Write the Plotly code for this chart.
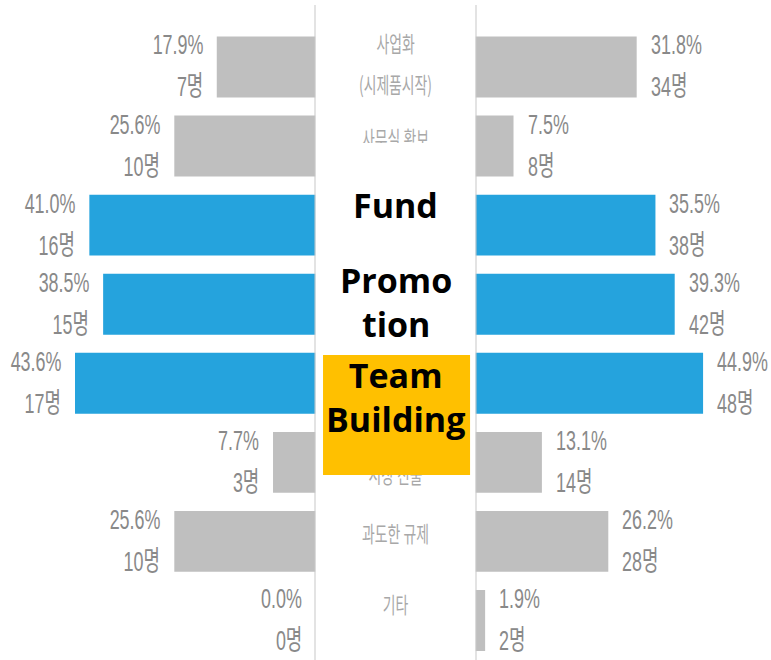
import plotly.graph_objects as go

# ---------------- data ----------------
center_labels = ["사업화<br>(시제품시작)", "사무실 확보", "", "", "", "시장 진출", "과도한 규제", "기타"]
overlay_labels = ["", "", "Fund", "Promo<br>tion", "Team<br>Building", "", "", ""]
left_pct = [17.9, 25.6, 41.0, 38.5, 43.6, 7.7, 25.6, 0.0]
left_cnt = [7, 10, 16, 15, 17, 3, 10, 0]
right_pct = [31.8, 7.5, 35.5, 39.3, 44.9, 13.1, 26.2, 1.9]
right_cnt = [34, 8, 38, 42, 48, 14, 28, 2]
highlight = [False, False, True, True, True, False, False, False]

# ---------------- style / layout ----------------
W, H = 771, 660
BLUE = "#25a3dd"
GRAY_BAR = "#bfbfbf"
NUM_COLOR = "#898989"
LABEL_COLOR = "#a8a8a8"
AXIS_COLOR = "#c8c8c8"
NUM_FONT = "Liberation Sans, Noto Sans CJK KR"
KR_FONT = "Noto Sans CJK KR"

Y_TOP, Y_BOT = -0.847, 7.5
PX_PER_ROW = H / (Y_BOT - Y_TOP)
label_dy = [0, 4.5, 0, 0, 0, -15.5, 4.5, 12.5]      # px, positive = up
overlay_dy = [0, 0, 20, 2, -14, 0, 0, 0]
LINE_GAP = 41

rows = list(range(len(center_labels)))
colors = [BLUE if h else GRAY_BAR for h in highlight]

left_dom = [0, 315.5 / W]
right_dom = [475.5 / W, 1]
center_dom = [315.5 / W, 475.5 / W]

fig = go.Figure()
fig.add_trace(go.Bar(x=left_pct, y=rows, orientation="h", width=0.77,
                     marker=dict(color=colors, line_width=0),
                     xaxis="x", yaxis="y", hoverinfo="skip", showlegend=False))
fig.add_trace(go.Bar(x=right_pct, y=rows, orientation="h", width=0.77,
                     marker=dict(color=colors, line_width=0),
                     xaxis="x2", yaxis="y", hoverinfo="skip", showlegend=False))

# centre (category) labels as a text trace so that the overlay boxes can cover them
tx, ty, tt = [], [], []
for i, lab in enumerate(center_labels):
    if not lab:
        continue
    lines = lab.split("<br>")
    n = len(lines)
    for j, line in enumerate(lines):
        shift_px = ((n - 1) / 2 - j) * LINE_GAP + label_dy[i]
        tx.append(0.5)
        ty.append(i - shift_px / PX_PER_ROW)
        tt.append(line)
fig.add_trace(go.Scatter(x=tx, y=ty, text=tt, mode="text", textposition="middle center",
                         textfont=dict(family=KR_FONT, size=22, color=LABEL_COLOR),
                         xaxis="x3", yaxis="y", hoverinfo="skip", showlegend=False,
                         cliponaxis=False))

num_font = dict(family=NUM_FONT, size=28, color=NUM_COLOR)
ann = []
for i in rows:
    ann.append(dict(x=left_pct[i], y=i, xref="x", yref="y", xanchor="right", yanchor="middle",
                    xshift=-12, yshift=22, text=f"{left_pct[i]:.1f}%", showarrow=False, font=num_font))
    ann.append(dict(x=left_pct[i], y=i, xref="x", yref="y", xanchor="right", yanchor="middle",
                    xshift=-12, yshift=-20, text=f"{left_cnt[i]}명", showarrow=False, font=num_font))
    ann.append(dict(x=right_pct[i], y=i, xref="x2", yref="y", xanchor="left", yanchor="middle",
                    xshift=12, yshift=22, text=f"{right_pct[i]:.1f}%", showarrow=False, font=num_font))
    ann.append(dict(x=right_pct[i], y=i, xref="x2", yref="y", xanchor="left", yanchor="middle",
                    xshift=12, yshift=-20, text=f"{right_cnt[i]}명", showarrow=False, font=num_font))
    if overlay_labels[i]:
        ann.append(dict(x=0.5, y=i, xref="x3", yref="y", xanchor="center", yanchor="middle",
                        yshift=overlay_dy[i], text=overlay_labels[i], showarrow=False,
                        font=dict(family="Open Sans", size=34, color="#000000", weight=700)))

shapes = [
    # white cover over the centre labels
    dict(type="rect", xref="x3", yref="paper", x0=0.01, x1=0.99,
         y0=1 - 355 / H, y1=1 - 143 / H, fillcolor="#ffffff", line_width=0, layer="above"),
    # orange highlight box
    dict(type="rect", xref="x3", yref="paper", x0=0.047, x1=0.966,
         y0=1 - 475 / H, y1=1 - 355 / H, fillcolor="#ffc000", line_width=0, layer="above"),
    # centre axis lines
    dict(type="line", xref="x", yref="paper", x0=0, x1=0, y0=0, y1=1 - 5 / H,
         line=dict(color=AXIS_COLOR, width=2), layer="above"),
    dict(type="line", xref="x2", yref="paper", x0=0, x1=0, y0=0, y1=1 - 5 / H,
         line=dict(color=AXIS_COLOR, width=2), layer="above"),
]

hidden = dict(visible=False, showgrid=False, zeroline=False, fixedrange=True)
fig.update_layout(
    width=W, height=H,
    margin=dict(l=0, r=0, t=0, b=0),
    paper_bgcolor="#ffffff", plot_bgcolor="#ffffff",
    barmode="overlay",
    hovermode=False,
    xaxis=dict(domain=left_dom, range=[57.2, 0], anchor="y", **hidden),
    xaxis2=dict(domain=right_dom, range=[0, 58.3], anchor="y", **hidden),
    xaxis3=dict(domain=center_dom, range=[0, 1], anchor="y", **hidden),
    yaxis=dict(range=[Y_BOT, Y_TOP], **hidden),
    annotations=ann,
    shapes=shapes,
    showlegend=False,
)

# page without body margin; condensed look of the grey labels (as in the source image)
post_js = """
document.body.style.margin = '0';
var gd = document.getElementById('{plot_id}');
function squeeze(el, origin, s) {
  el.style.transformBox = 'fill-box';
  el.style.transformOrigin = origin;
  el.style.transform = 'scaleX(' + s + ')';
}
var mid = gd.getBoundingClientRect().left + gd.getBoundingClientRect().width / 2;
gd.querySelectorAll('g.annotation').forEach(function (g) {
  var t = g.querySelector('text');
  if (!t || !/^[0-9]/.test(t.textContent)) return;
  var r = t.getBoundingClientRect();
  squeeze(t, (r.left + r.width / 2) < mid ? 'right center' : 'left center', 0.64);
});
gd.querySelectorAll('g.textpoint text').forEach(function (t) { squeeze(t, 'center', 0.63); });
"""

fig.write_html("out.html", post_script=post_js, config={"displayModeBar": False})
